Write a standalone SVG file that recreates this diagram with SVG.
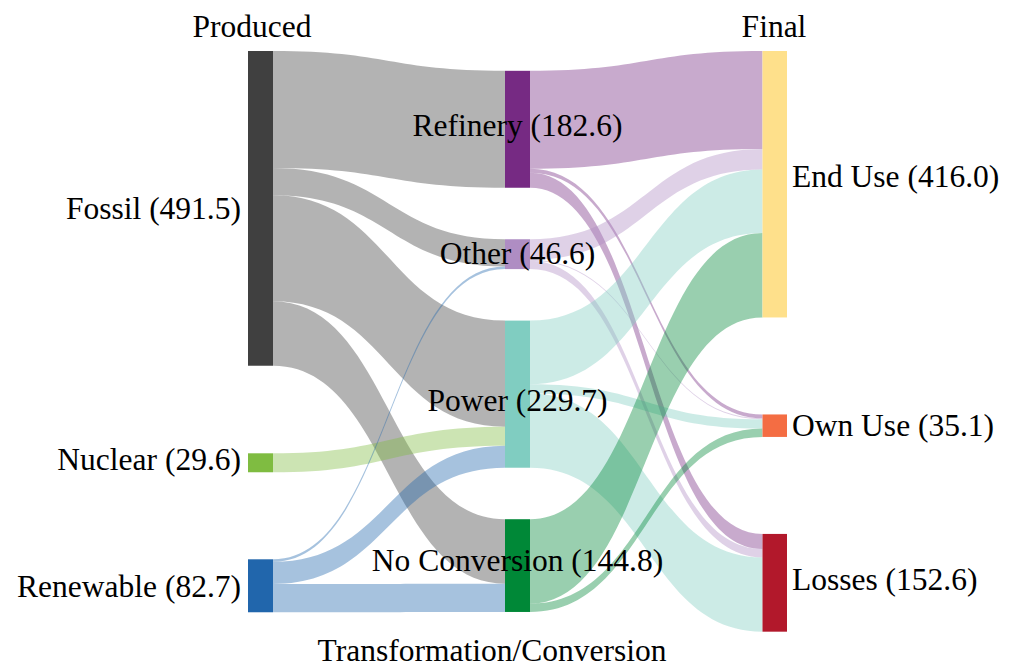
<svg xmlns="http://www.w3.org/2000/svg" width="1014" height="672" viewBox="0 0 1014 672">
<style>
text{font-family:"Liberation Serif","DejaVu Serif",serif;font-size:31.5px;fill:#000}
.l{fill-opacity:0.4;stroke:none}
.end{text-anchor:end}
.mid{text-anchor:middle}
.fos{fill:#404040}.nuc{fill:#7fbc41}.ren{fill:#2166ac}
.ref{fill:#762a83}.oth{fill:#af8dc3}.pow{fill:#80cdc1}.noc{fill:#008837}
.eu{fill:#fee08b}.ou{fill:#f46d43}.los{fill:#b2182b}
</style>
<rect width="1014" height="672" fill="#fff"/>
<g id="connectors">
<path class="l fos" d="M273,51 C389,51 389,70.8 505,70.8 L505,187.75 C389,187.75 389,167.95 273,167.95 Z"/>
<path class="l fos" d="M273,167.95 C389,167.95 389,239.25 505,239.25 L505,266.54 C389,266.54 389,195.24 273,195.24 Z"/>
<path class="l fos" d="M273,195.24 C389,195.24 389,320.6 505,320.6 L505,426.67 C389,426.67 389,301.31 273,301.31 Z"/>
<path class="l fos" d="M273,301.31 C389,301.31 389,519.22 505,519.22 L505,583.65 C389,583.65 389,365.74 273,365.74 Z"/>
<path class="l nuc" d="M273,453.3 C389,453.3 389,426.67 505,426.67 L505,445.63 C389,445.63 389,472.26 273,472.26 Z"/>
<path class="l ren" d="M273,559.3 C389,559.3 389,266.54 505,266.54 L505,269.1 C389,269.1 389,561.86 273,561.86 Z"/>
<path class="l ren" d="M273,561.86 C389,561.86 389,445.63 505,445.63 L505,467.73 C389,467.73 389,583.96 273,583.96 Z"/>
<path class="l ren" d="M273,583.96 C389,583.96 389,583.65 505,583.65 L505,611.96 C389,611.96 389,612.27 273,612.27 Z"/>
<path class="l ref" d="M530,70.8 C646.25,70.8 646.25,51 762.5,51 L762.5,149 C646.25,149 646.25,168.8 530,168.8 Z"/>
<path class="l ref" d="M530,168.8 C646.25,168.8 646.25,414.45 762.5,414.45 L762.5,418.29 C646.25,418.29 646.25,172.64 530,172.64 Z"/>
<path class="l ref" d="M530,172.64 C646.25,172.64 646.25,533.93 762.5,533.93 L762.5,549.05 C646.25,549.05 646.25,187.76 530,187.76 Z"/>
<path class="l oth" d="M530,239.25 C646.25,239.25 646.25,149 762.5,149 L762.5,169.5 C646.25,169.5 646.25,259.75 530,259.75 Z"/>
<path class="l oth" d="M530,259.75 C646.25,259.75 646.25,418.29 762.5,418.29 L762.5,419.31 C646.25,419.31 646.25,260.77 530,260.77 Z"/>
<path class="l oth" d="M530,260.77 C646.25,260.77 646.25,549.05 762.5,549.05 L762.5,557.38 C646.25,557.38 646.25,269.1 530,269.1 Z"/>
<path class="l pow" d="M530,320.6 C646.25,320.6 646.25,169.5 762.5,169.5 L762.5,233.04 C646.25,233.04 646.25,384.14 530,384.14 Z"/>
<path class="l pow" d="M530,384.14 C646.25,384.14 646.25,419.31 762.5,419.31 L762.5,428.6 C646.25,428.6 646.25,393.43 530,393.43 Z"/>
<path class="l pow" d="M530,393.43 C646.25,393.43 646.25,557.38 762.5,557.38 L762.5,631.68 C646.25,631.68 646.25,467.73 530,467.73 Z"/>
<path class="l noc" d="M530,519.22 C646.25,519.22 646.25,233.04 762.5,233.04 L762.5,317.46 C646.25,317.46 646.25,603.64 530,603.64 Z"/>
<path class="l noc" d="M530,603.64 C646.25,603.64 646.25,428.6 762.5,428.6 L762.5,436.93 C646.25,436.93 646.25,611.97 530,611.97 Z"/>
</g>
<g id="headers">
<text class="mid" x="252" y="37">Produced</text>
<text class="mid" x="774" y="37">Final</text>
<text class="mid" x="492" y="661">Transformation/Conversion</text>
</g>
<g id="fossil"><rect class="fos" x="248" y="51" width="25" height="314.74"/><text class="end" x="241" y="219">Fossil (491.5)</text></g>
<g id="nuclear"><rect class="nuc" x="248" y="453.3" width="25" height="18.96"/><text class="end" x="241" y="470">Nuclear (29.6)</text></g>
<g id="renewable"><rect class="ren" x="248" y="559.3" width="25" height="52.97"/><text class="end" x="241" y="597">Renewable (82.7)</text></g>
<g id="refinery"><rect class="ref" x="505" y="70.8" width="25" height="116.95"/><text class="mid" x="517.5" y="136">Refinery (182.6)</text></g>
<g id="other"><rect class="oth" x="505" y="239.25" width="25" height="29.85"/><text class="mid" x="517.5" y="263.5">Other (46.6)</text></g>
<g id="power"><rect class="pow" x="505" y="320.6" width="25" height="147.13"/><text class="mid" x="517.5" y="411">Power (229.7)</text></g>
<g id="noconversion"><rect class="noc" x="505" y="519.22" width="25" height="92.74"/><text class="mid" x="517.5" y="571">No Conversion (144.8)</text></g>
<g id="enduse"><rect class="eu" x="762.5" y="51" width="24.5" height="266.46"/><text x="792" y="187">End Use (416.0)</text></g>
<g id="ownuse"><rect class="ou" x="762.5" y="414.45" width="24.5" height="22.48"/><text x="792" y="436">Own Use (35.1)</text></g>
<g id="losses"><rect class="los" x="762.5" y="533.93" width="24.5" height="97.75"/><text x="792" y="590">Losses (152.6)</text></g>
</svg>
